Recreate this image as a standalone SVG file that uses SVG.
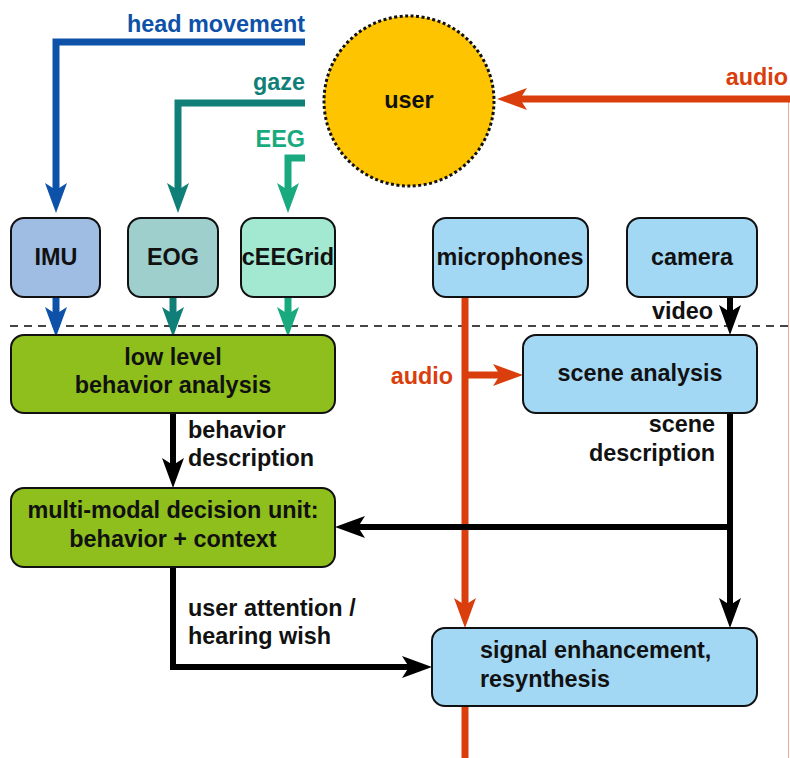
<svg xmlns="http://www.w3.org/2000/svg" width="790" height="758" viewBox="0 0 790 758">
<style>
text{font-family:"Liberation Sans",Arial,sans-serif;font-weight:bold;font-size:23.4px}
.lbl{fill:#111}
.box{stroke:#111;stroke-width:2}
.c{fill:none;stroke-width:7}
.blue{stroke:#0d52a8}
.teal{stroke:#0f7f78}
.grn{stroke:#18aa7e}
.red{stroke:#d93e0c}
.blk{stroke:#000;stroke-width:6}
</style>
<defs>
<marker id="aB" viewBox="0 -11 30 22" refX="15" refY="0" markerWidth="30" markerHeight="22" markerUnits="userSpaceOnUse" orient="auto"><path d="M0,-11 L30,0 L0,11 L7,0 z" fill="#0d52a8"/></marker>
<marker id="aT" viewBox="0 -11 30 22" refX="15" refY="0" markerWidth="30" markerHeight="22" markerUnits="userSpaceOnUse" orient="auto"><path d="M0,-11 L30,0 L0,11 L7,0 z" fill="#0f7f78"/></marker>
<marker id="aG" viewBox="0 -11 30 22" refX="15" refY="0" markerWidth="30" markerHeight="22" markerUnits="userSpaceOnUse" orient="auto"><path d="M0,-11 L30,0 L0,11 L7,0 z" fill="#18aa7e"/></marker>
<marker id="aR" viewBox="0 -11 30 22" refX="15" refY="0" markerWidth="30" markerHeight="22" markerUnits="userSpaceOnUse" orient="auto"><path d="M0,-11 L30,0 L0,11 L7,0 z" fill="#d93e0c"/></marker>
<marker id="aK" viewBox="0 -11 30 22" refX="15" refY="0" markerWidth="30" markerHeight="22" markerUnits="userSpaceOnUse" orient="auto"><path d="M0,-11 L30,0 L0,11 L7,0 z" fill="#000"/></marker>
</defs>
<rect width="790" height="758" fill="#fff"/>

<g id="connectors">
<line x1="788.5" y1="99" x2="788.5" y2="758" stroke="#f2a89a" stroke-width="1"/>
<line x1="10" y1="326" x2="790" y2="326" stroke="#444" stroke-width="2" stroke-dasharray="8 6"/>
<path class="c blue" d="M305,42 H56 V198" marker-end="url(#aB)"/>
<path class="c teal" d="M305,103 H178 V198" marker-end="url(#aT)"/>
<path class="c grn" d="M305,158 H288 V198" marker-end="url(#aG)"/>
<path class="c blue" d="M56,297 V322" marker-end="url(#aB)"/>
<path class="c teal" d="M173,297 V322" marker-end="url(#aT)"/>
<path class="c grn" d="M288,297 V322" marker-end="url(#aG)"/>
<path class="c red" d="M790,99 H512" marker-end="url(#aR)"/>
<path class="c red" d="M465,297 V613" marker-end="url(#aR)"/>
<path class="c red" d="M465,375 H508" marker-end="url(#aR)"/>
<path class="c red" d="M465,706 V758"/>
<path class="c blk" d="M730,297 V320" marker-end="url(#aK)"/>
<path class="c blk" d="M730,413 V613" marker-end="url(#aK)"/>
<path class="c blk" d="M733,527 H350" marker-end="url(#aK)"/>
<path class="c blk" d="M173,413 V473" marker-end="url(#aK)"/>
<path class="c blk" d="M173,567 V667 H417" marker-end="url(#aK)"/>
<text x="305" y="32" text-anchor="end" fill="#0d52a8">head movement</text>
<text x="305" y="90" text-anchor="end" fill="#0f7f78">gaze</text>
<text x="305" y="147" text-anchor="end" fill="#18aa7e">EEG</text>
<text x="788" y="85" text-anchor="end" fill="#d93e0c">audio</text>
<text x="453" y="384" text-anchor="end" fill="#d93e0c">audio</text>
<text x="713" y="319" text-anchor="end" fill="#111">video</text>
<text x="715" y="432" text-anchor="end" fill="#111">scene</text>
<text x="715" y="461" text-anchor="end" fill="#111">description</text>
<text x="188" y="438" fill="#111">behavior</text>
<text x="188" y="466" fill="#111">description</text>
<text x="188" y="616" fill="#111">user attention /</text>
<text x="188" y="644" fill="#111">hearing wish</text>
</g>

<g id="user">
<circle cx="409" cy="101" r="85" fill="#ffc400" stroke="#111" stroke-width="3" stroke-dasharray="3 2.5"/>
<text class="lbl" x="409" y="108" text-anchor="middle">user</text>
</g>
<g id="imu">
<rect class="box" x="11" y="218" width="89" height="79" rx="13" fill="#9fbde3"/>
<text class="lbl" x="56" y="265" text-anchor="middle">IMU</text>
</g>
<g id="eog">
<rect class="box" x="128" y="218" width="90" height="79" rx="13" fill="#9ecfcc"/>
<text class="lbl" x="173" y="265" text-anchor="middle">EOG</text>
</g>
<g id="ceegrid">
<rect class="box" x="241" y="218" width="94" height="79" rx="13" fill="#a3e8d0"/>
<text class="lbl" x="288" y="265" text-anchor="middle">cEEGrid</text>
</g>
<g id="microphones">
<rect class="box" x="433" y="218" width="155" height="79" rx="13" fill="#a3d8f5"/>
<text class="lbl" x="510" y="265" text-anchor="middle">microphones</text>
</g>
<g id="camera">
<rect class="box" x="627" y="218" width="130" height="79" rx="13" fill="#a3d8f5"/>
<text class="lbl" x="692" y="265" text-anchor="middle">camera</text>
</g>
<g id="lowlevel">
<rect class="box" x="11" y="335" width="324" height="78" rx="13" fill="#8fbf1c"/>
<text class="lbl" x="173" y="365" text-anchor="middle">low level</text>
<text class="lbl" x="173" y="393" text-anchor="middle">behavior analysis</text>
</g>
<g id="scene">
<rect class="box" x="523" y="335" width="234" height="78" rx="13" fill="#a3d8f5"/>
<text class="lbl" x="640" y="381" text-anchor="middle">scene analysis</text>
</g>
<g id="decision">
<rect class="box" x="11" y="488" width="324" height="79" rx="13" fill="#8fbf1c"/>
<text class="lbl" x="173" y="518" text-anchor="middle">multi-modal decision unit:</text>
<text class="lbl" x="173" y="547" text-anchor="middle">behavior + context</text>
</g>
<g id="signal">
<rect class="box" x="432" y="628" width="325" height="78" rx="13" fill="#a3d8f5"/>
<text class="lbl" x="480" y="658">signal enhancement,</text>
<text class="lbl" x="480" y="687">resynthesis</text>
</g>
</svg>
